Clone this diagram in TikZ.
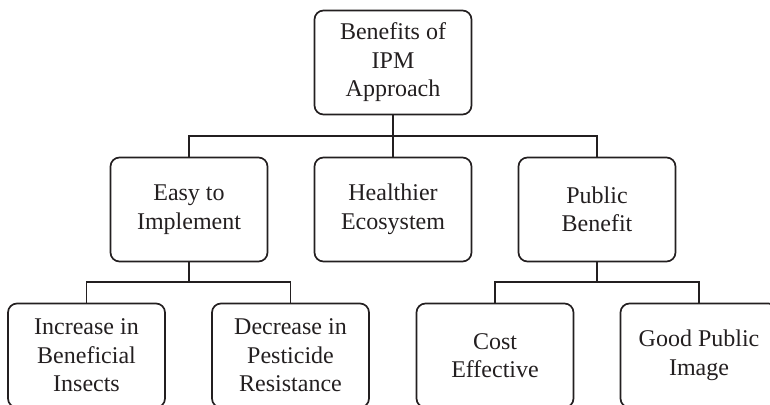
\documentclass[tikz,border=0pt]{standalone}
\usepackage{fontspec}
\setmainfont{Liberation Serif}
\usetikzlibrary{positioning,calc}
\definecolor{ink}{RGB}{35,31,32}
\tikzset{box/.style={draw=ink, text=ink, line width=1.7pt, rounded corners=9pt, minimum width=157pt,
    minimum height=104pt, align=center, inner sep=2pt,
    font=\fontsize{24}{28.5}\selectfont}}

\begin{document}
\begin{tikzpicture}[x=1pt,y=1pt]
    \useasboundingbox (0,0) rectangle (770,-404);

    % Draw top box.
    \node[box] (ipm) at (393,-62.5) {Benefits of\\IPM\\Approach};

    % Draw middle row.
    \node[box] (easy) at (189,-209.5) {Easy to\\Implement};
    \node[box] (eco) at (393,-209.5) {Healthier\\Ecosystem};
    \node[box] (public) at (597,-209.5) {Public\\Benefit};

    % Draw bottom row.
    \node[box] (insects) at (86.5,-355.5) {Increase in\\Beneficial\\Insects};
    \node[box] (resist) at (290.5,-355.5) {Decrease in\\Pesticide\\Resistance};
    \node[box] (cost) at (495,-355.5) {Cost\\Effective};
    \node[box] (image) at (699,-355.5) {Good Public\\Image};

    % Draw connectors.
    \coordinate (busA) at (0,-136);
    \coordinate (busB) at (0,-282);
    \begin{scope}[draw=ink, line width=1.7pt]
        \draw (ipm.south) -- (eco.north);
        \draw (easy.north) |- (busA -| public.north) -- (public.north);
        \draw (easy.south) -- (easy.south |- busB);
        \draw (insects.north) |- (busB -| resist.north) -- (resist.north);
        \draw (public.south) -- (public.south |- busB);
        \draw (cost.north) |- (busB -| image.north) -- (image.north);
    \end{scope}
\end{tikzpicture}
\end{document}
